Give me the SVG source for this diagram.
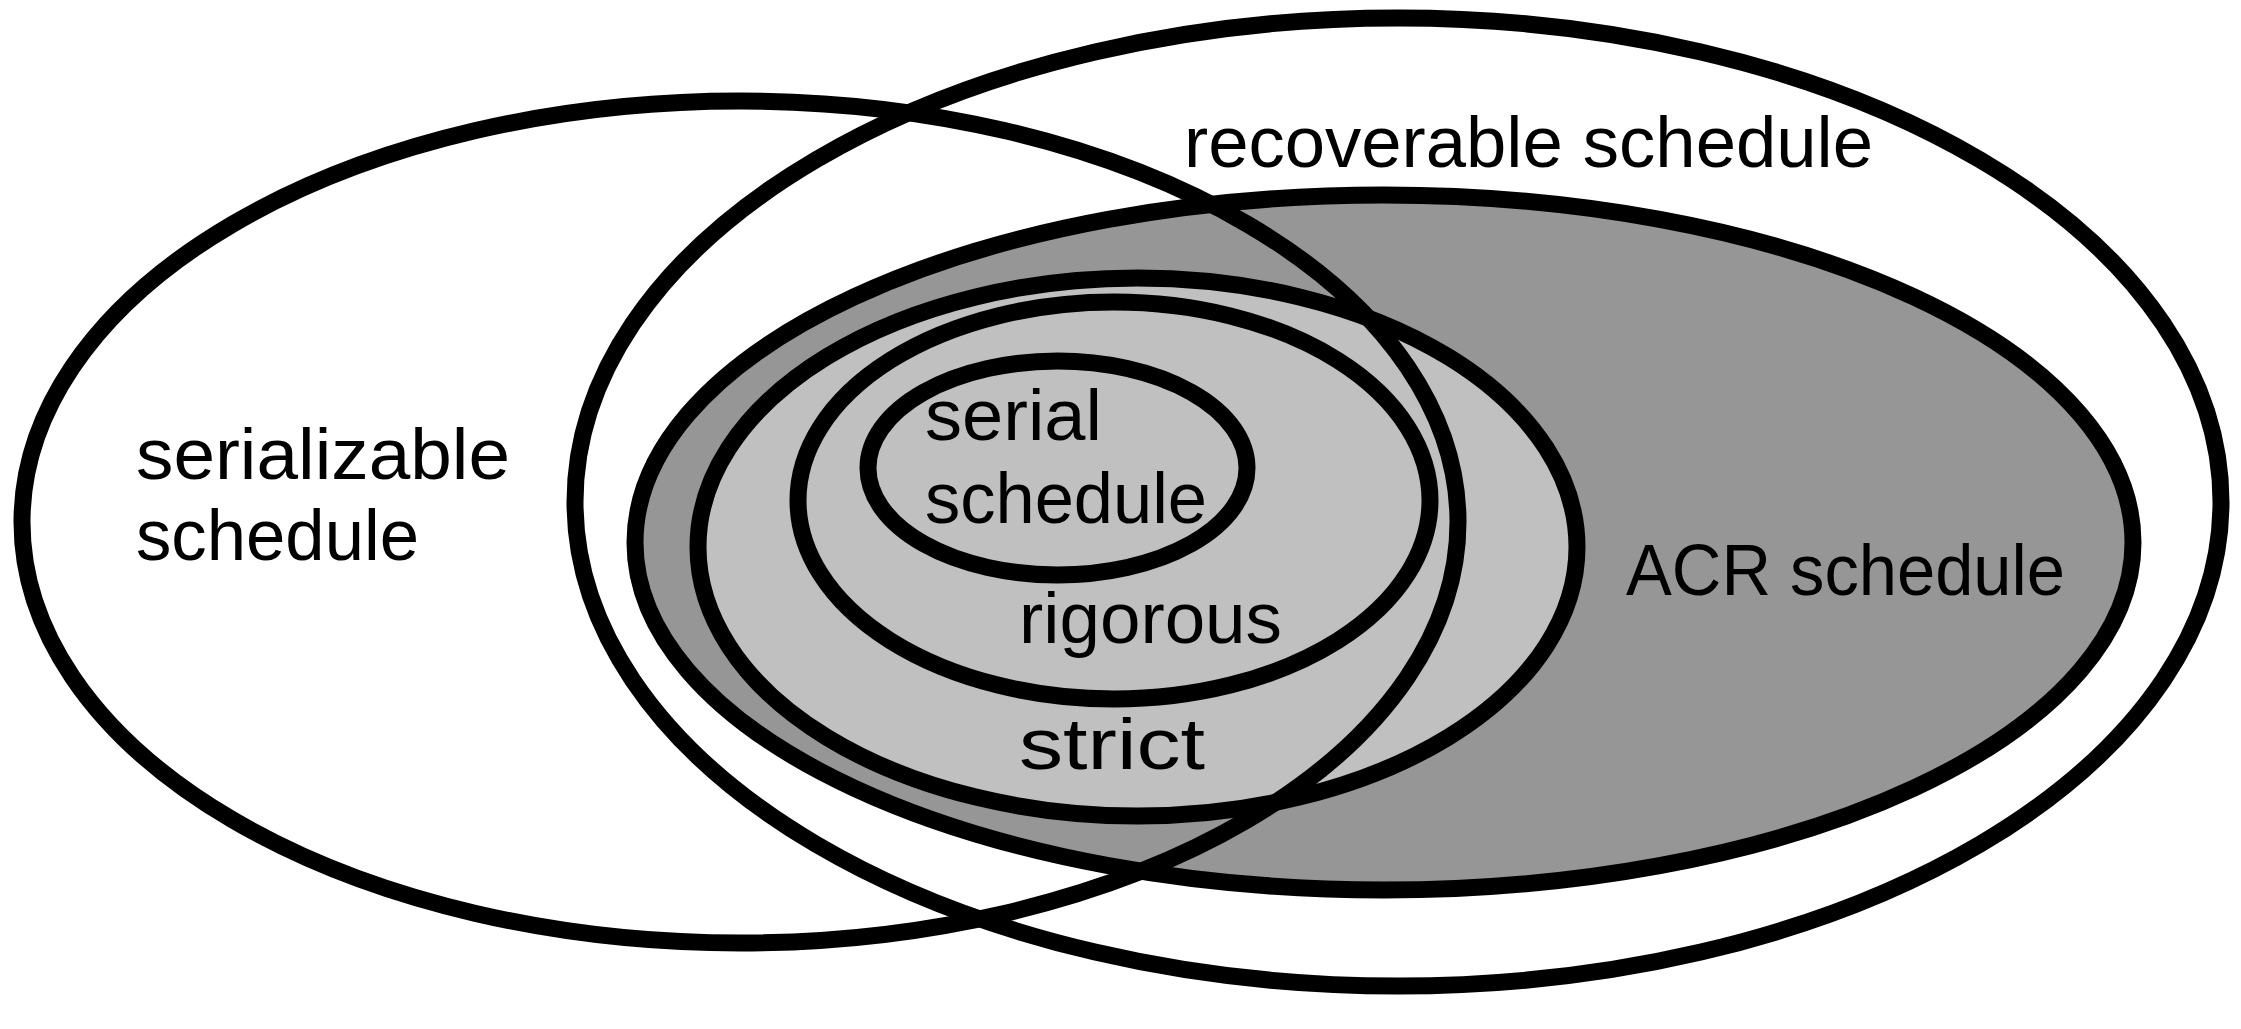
<svg xmlns="http://www.w3.org/2000/svg" width="2241" height="1029" viewBox="0 0 2241 1029">
<style>
.set{stroke:#000;stroke-width:17}
.lbl{font-family:"Liberation Sans",Arial,sans-serif;font-size:72px;fill:#000}
</style>
<rect width="2241" height="1029" fill="#fff"/>
<g id="recoverable">
<ellipse class="set" cx="1398" cy="502" rx="823" ry="484" fill="#fff"/>
<text class="lbl" x="1184" y="167" textLength="689" lengthAdjust="spacingAndGlyphs">recoverable schedule</text>
</g>
<g id="acr">
<ellipse class="set" cx="1384" cy="542.5" rx="749" ry="347.5" fill="#969696"/>
<text class="lbl" x="1626" y="595" textLength="439" lengthAdjust="spacingAndGlyphs">ACR schedule</text>
</g>
<g id="strict">
<ellipse class="set" cx="1137.5" cy="547" rx="439.5" ry="269" fill="#c0c0c0"/>
<text class="lbl" x="1019" y="769" textLength="186" lengthAdjust="spacingAndGlyphs">strict</text>
</g>
<g id="rigorous">
<ellipse class="set" cx="1114" cy="500.5" rx="316" ry="198.5" fill="#c0c0c0"/>
<text class="lbl" x="1019" y="643" textLength="263" lengthAdjust="spacingAndGlyphs">rigorous</text>
</g>
<g id="serial">
<ellipse class="set" cx="1057.5" cy="468" rx="189.5" ry="107" fill="#c0c0c0"/>
<text class="lbl" x="925" y="440" textLength="177" lengthAdjust="spacingAndGlyphs">serial</text>
<text class="lbl" x="925" y="523" textLength="282" lengthAdjust="spacingAndGlyphs">schedule</text>
</g>
<g id="serializable">
<ellipse class="set" cx="740" cy="522" rx="718" ry="421" fill="none"/>
<text class="lbl" x="136" y="479" textLength="374" lengthAdjust="spacingAndGlyphs">serializable</text>
<text class="lbl" x="136" y="560" textLength="283" lengthAdjust="spacingAndGlyphs">schedule</text>
</g>
<g id="connectors"></g>
</svg>
